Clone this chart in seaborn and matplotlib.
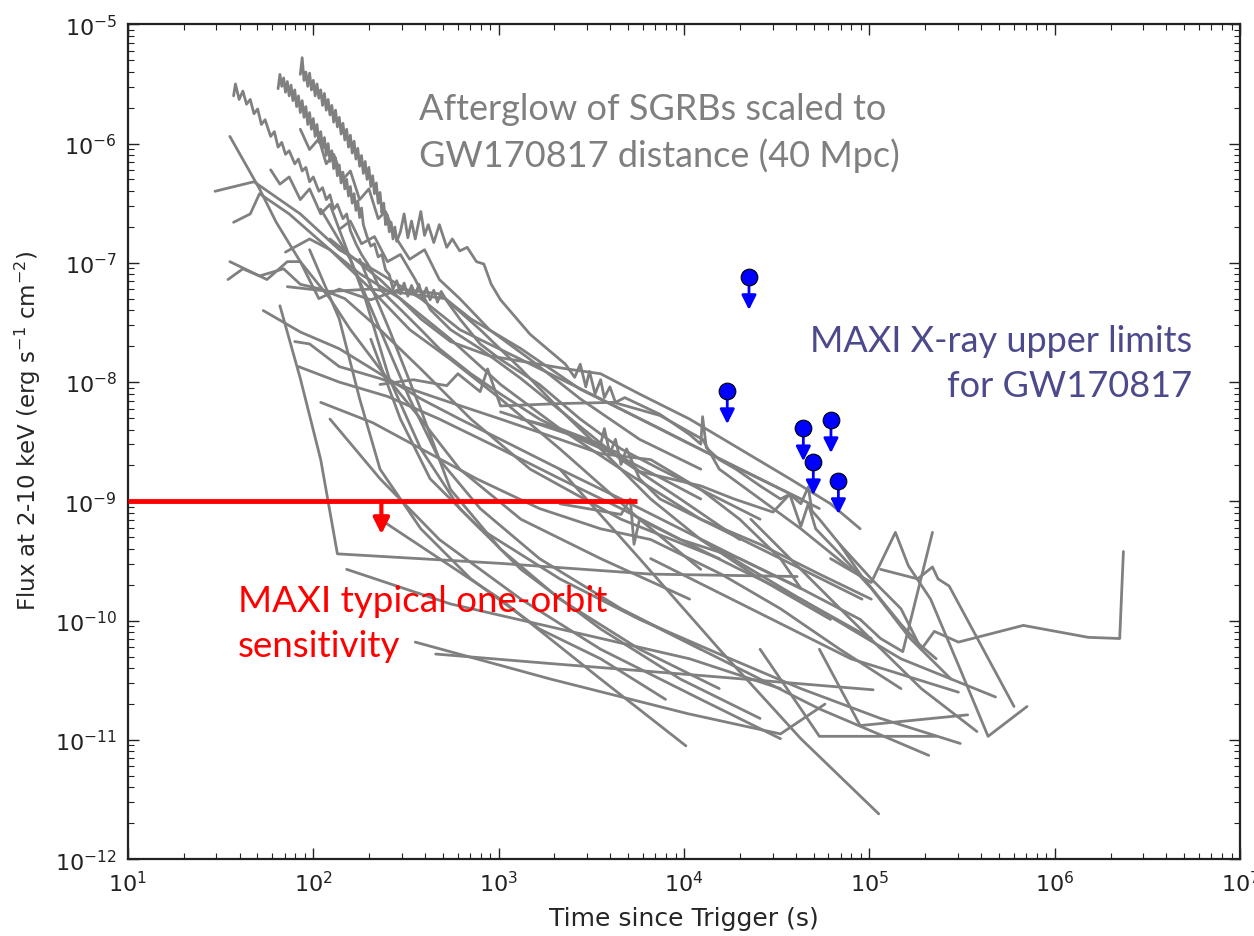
import matplotlib
matplotlib.use("Agg")
import matplotlib.pyplot as plt
import numpy as np
import pandas as pd
import seaborn as sns

# SGRB afterglow light curves,
# each point is (log10 time [s], log10 flux [erg s^-1 cm^-2])
lc_a = [(1.93, -5.42), (1.94, -5.28), (1.95, -5.47), (1.96, -5.40), (1.97, -5.52),
        (1.98, -5.41), (1.99, -5.55), (2.00, -5.47), (2.01, -5.60), (2.02, -5.50),
        (2.03, -5.62), (2.04, -5.55), (2.05, -5.68), (2.06, -5.58), (2.07, -5.72),
        (2.08, -5.63), (2.09, -5.76), (2.10, -5.68), (2.11, -5.82), (2.12, -5.72),
        (2.13, -5.86), (2.14, -5.78), (2.15, -5.92), (2.16, -5.83), (2.17, -5.97),
        (2.18, -5.88), (2.19, -6.03), (2.20, -5.93), (2.21, -6.08), (2.22, -5.98),
        (2.23, -6.13), (2.24, -6.04), (2.25, -6.19), (2.26, -6.10), (2.27, -6.25),
        (2.28, -6.15), (2.29, -6.30), (2.30, -6.20), (2.31, -6.36), (2.32, -6.27),
        (2.33, -6.42), (2.34, -6.33), (2.35, -6.50), (2.36, -6.41), (2.37, -6.58),
        (2.38, -6.50), (2.39, -6.68), (2.40, -6.60), (2.41, -6.74), (2.42, -6.66),
        (2.43, -6.80), (2.44, -6.70), (2.45, -6.82),
        (2.47, -6.74), (2.49, -6.59), (2.51, -6.79), (2.53, -6.65), (2.55, -6.80),
        (2.58, -6.57), (2.60, -6.77), (2.62, -6.68), (2.65, -6.83), (2.68, -6.68),
        (2.72, -6.87), (2.75, -6.80), (2.79, -6.90), (2.83, -6.87), (2.88, -6.99),
        (2.92, -7.01), (2.96, -7.18), (3.01, -7.31), (3.17, -7.60), (3.36, -7.85),
        (3.41, -7.96), (3.44, -7.85), (3.47, -8.04), (3.49, -7.91), (3.52, -8.10),
        (3.55, -7.98), (3.57, -8.13), (3.60, -8.04), (3.63, -8.17), (3.68, -8.13),
        (3.87, -8.27), (4.03, -8.44), (4.09, -8.52), (4.10, -8.29), (4.12, -8.55),
        (4.19, -8.65), (4.28, -8.73), (4.41, -8.87), (4.52, -8.98), (4.57, -8.94),
        (4.63, -9.02), (4.67, -8.88), (4.69, -9.08), (4.73, -9.15), (4.84, -9.36),
        (4.95, -9.61), (5.06, -9.82), (5.17, -10.03), (5.27, -10.20), (5.36, -10.32)]
lc_b = [(1.81, -5.54), (1.82, -5.42), (1.83, -5.52), (1.84, -5.45), (1.85, -5.57),
        (1.86, -5.48), (1.87, -5.60), (1.88, -5.51), (1.89, -5.64), (1.90, -5.55),
        (1.91, -5.69), (1.92, -5.60), (1.93, -5.74), (1.94, -5.64), (1.95, -5.78),
        (1.96, -5.69), (1.97, -5.84), (1.98, -5.74), (1.99, -5.88), (2.00, -5.79),
        (2.01, -5.94), (2.02, -5.84), (2.03, -5.99), (2.04, -5.90), (2.05, -6.04),
        (2.06, -5.95), (2.07, -6.10), (2.08, -6.00), (2.09, -6.15), (2.10, -6.06),
        (2.11, -6.21), (2.12, -6.12), (2.13, -6.27), (2.14, -6.18), (2.15, -6.33),
        (2.16, -6.24), (2.17, -6.38), (2.18, -6.30), (2.19, -6.44), (2.20, -6.36),
        (2.21, -6.50), (2.22, -6.42), (2.23, -6.56), (2.24, -6.48), (2.25, -6.62),
        (2.26, -6.54), (2.27, -6.68), (2.29, -6.78), (2.31, -6.86), (2.33, -6.84),
        (2.35, -6.95), (2.37, -6.93), (2.39, -7.06), (2.41, -7.10), (2.43, -7.22),
        (2.45, -7.15), (2.47, -7.26), (2.49, -7.17), (2.51, -7.28), (2.53, -7.19),
        (2.55, -7.27), (2.57, -7.18), (2.59, -7.30), (2.61, -7.21), (2.63, -7.31),
        (2.65, -7.23), (2.67, -7.33), (2.69, -7.24), (2.72, -7.32), (2.79, -7.47),
        (2.90, -7.68), (3.01, -7.81), (3.22, -8.02), (3.44, -8.31), (3.66, -8.56),
        (3.87, -8.73), (4.09, -8.90), (4.30, -9.15), (4.52, -9.48), (4.63, -9.73)]
lc_c = [(1.57, -5.60), (1.58, -5.50), (1.60, -5.63), (1.62, -5.56), (1.64, -5.67),
        (1.66, -5.63), (1.68, -5.75), (1.70, -5.71), (1.72, -5.84), (1.74, -5.80),
        (1.77, -5.94), (1.79, -5.90), (1.81, -6.03), (1.83, -5.99), (1.85, -6.09),
        (1.87, -6.06), (1.90, -6.17), (1.92, -6.13), (1.94, -6.23), (1.96, -6.20),
        (1.98, -6.32), (2.00, -6.28), (2.03, -6.40), (2.05, -6.37), (2.07, -6.47),
        (2.09, -6.43), (2.11, -6.55), (2.13, -6.51), (2.16, -6.63), (2.18, -6.59),
        (2.20, -6.73), (2.23, -6.84), (2.26, -6.93), (2.31, -7.05), (2.36, -7.22),
        (2.41, -7.30), (2.47, -7.39), (2.58, -7.56), (2.68, -7.72), (2.85, -7.93),
        (3.01, -8.10), (3.22, -8.31), (3.44, -8.48), (3.66, -8.63), (3.87, -8.80),
        (4.09, -8.98)]
lc_d = [(1.47, -6.40), (1.68, -6.32), (1.93, -6.59), (2.14, -6.89), (2.36, -7.09),
        (2.58, -7.30), (2.79, -7.56), (3.12, -7.81), (3.55, -8.14), (3.98, -8.48),
        (4.41, -8.81), (4.73, -9.06)]
lc_e = [(1.55, -5.94), (1.71, -6.38), (1.80, -6.66), (1.93, -6.99), (2.09, -7.30),
        (2.20, -7.56), (2.36, -7.89), (2.58, -8.31), (2.79, -8.73), (3.12, -9.15),
        (3.55, -9.48), (4.03, -9.82)]
lc_f = [(1.57, -6.66), (1.66, -6.59), (1.71, -6.42), (1.87, -6.59), (2.09, -6.89),
        (2.31, -7.22), (2.52, -7.56), (2.74, -7.81), (3.01, -8.14), (3.33, -8.56),
        (3.76, -9.15), (4.09, -9.57)]
lc_g = [(1.54, -7.14), (1.62, -7.05), (1.71, -7.11), (1.84, -7.05), (1.93, -7.18),
        (2.04, -7.22), (2.17, -7.30), (2.36, -7.56), (2.58, -7.89), (2.85, -8.31),
        (3.17, -8.73), (3.66, -9.15), (4.19, -9.48)]
lc_h = [(1.55, -6.99), (1.75, -7.14), (1.86, -6.99), (1.93, -6.99), (2.03, -7.30),
        (2.14, -7.22), (2.31, -7.31), (2.47, -7.22), (2.68, -7.26), (2.85, -7.47),
        (3.12, -7.72), (3.44, -8.06), (3.87, -8.39), (4.30, -8.73), (4.63, -8.98)]
lc_i = [(1.85, -6.91), (1.98, -6.80), (2.09, -6.89), (2.25, -7.09), (2.47, -7.30),
        (2.74, -7.64), (3.01, -8.02), (3.33, -8.39), (3.66, -8.73), (4.09, -9.15),
        (4.52, -9.48), (4.96, -9.82)]
lc_j = [(1.73, -7.40), (1.93, -7.58), (2.14, -7.72), (2.36, -7.93), (2.58, -8.14),
        (2.79, -8.31), (3.01, -8.48), (3.33, -8.73), (3.66, -8.98), (3.98, -9.23),
        (4.30, -9.48), (4.63, -9.73), (4.95, -9.99)]
lc_k = [(1.82, -7.36), (1.93, -7.97), (2.04, -8.65), (2.13, -9.44), (3.01, -9.52),
        (3.82, -9.61), (4.61, -9.63)]
lc_l = [(1.86, -7.20), (2.09, -7.24), (2.31, -7.22), (2.52, -7.26), (2.71, -7.30),
        (2.90, -7.56), (3.12, -7.89), (3.33, -8.23), (3.55, -8.56), (3.82, -8.98),
        (4.09, -9.32), (4.41, -9.65), (4.79, -9.99)]
lc_m = [(1.90, -7.66), (1.98, -7.68), (2.14, -7.87), (2.36, -7.97), (2.68, -8.14),
        (3.01, -8.31), (3.33, -8.48), (3.55, -8.60), (3.82, -8.65), (4.09, -8.90),
        (4.41, -9.15)]
lc_n = [(1.92, -7.87), (2.14, -8.00), (2.40, -8.12), (2.68, -8.31), (3.01, -8.56),
        (3.33, -8.81), (3.66, -9.06), (3.98, -9.32), (4.30, -9.57), (4.63, -9.82),
        (5.01, -10.15)]
lc_o = [(2.04, -8.17), (2.32, -8.34), (2.63, -8.60), (2.88, -8.81), (3.22, -9.06),
        (3.55, -9.23), (3.82, -9.32), (4.20, -9.61), (4.52, -9.90), (4.84, -10.24),
        (5.17, -10.57)]
lc_p = [(2.55, -10.18), (3.28, -10.49), (4.02, -10.78), (4.52, -10.95), (4.76, -10.70)]
lc_q = [(2.66, -10.28), (3.28, -10.36), (4.09, -10.46), (5.02, -10.58)]
lc_r = [(3.33, -8.73), (3.76, -9.48), (4.19, -10.24), (4.63, -10.99), (5.05, -11.62)]
lc_s = [(2.36, -9.15), (3.01, -9.82), (3.55, -10.49), (4.01, -11.05)]
lc_t = [(3.55, -9.82), (4.09, -10.24), (4.73, -10.74), (5.32, -11.13)]
lc_u = [(4.41, -10.24), (4.63, -10.74), (4.73, -10.97), (5.36, -10.97)]
lc_v = [(4.73, -10.24), (4.95, -10.88), (5.53, -10.79)]
lc_w = [(4.09, -9.32), (4.63, -9.82), (5.17, -10.32), (5.68, -10.64)]
lc_x = [(3.82, -9.48), (4.36, -9.90), (4.90, -10.32), (5.48, -10.60)]
lc_y = [(4.79, -9.48), (5.01, -9.68), (5.14, -9.26), (5.21, -9.54), (5.33, -9.82),
        (5.49, -10.41), (5.64, -10.97), (5.85, -10.72)]
lc_z = [(4.95, -9.99), (5.06, -10.15), (5.18, -10.26), (5.34, -9.26)]
lc_aa = [(5.06, -9.57), (5.26, -9.65), (5.34, -9.55), (5.37, -9.65), (5.43, -9.71),
         (5.78, -10.72)]
lc_bb = [(4.84, -9.36), (5.01, -9.65), (5.17, -9.90), (5.28, -10.24), (5.35, -10.09),
         (5.48, -10.18), (5.83, -10.04), (6.18, -10.14), (6.35, -10.15), (6.37, -9.42)]
lc_cc = [(4.36, -9.15), (4.90, -9.99), (5.28, -10.57), (5.58, -10.93)]
lc_ee = [(3.01, -8.25), (3.19, -8.34), (3.46, -8.48), (3.64, -8.59), (3.76, -8.75),
         (4.09, -8.87), (4.27, -8.98), (4.48, -9.09), (4.57, -8.94), (4.63, -9.21),
         (4.67, -9.02), (4.71, -9.23), (4.84, -9.44), (5.01, -9.73), (5.22, -10.15),
         (5.44, -10.49)]
lc_ff = [(2.36, -8.02), (2.54, -7.98), (2.72, -8.03), (2.78, -7.93), (2.90, -8.08),
         (2.94, -7.89), (3.01, -8.20), (3.33, -8.18), (3.62, -8.17), (3.87, -8.28),
         (4.10, -8.48), (4.19, -8.73), (4.41, -8.98), (4.63, -9.23), (4.90, -9.57)]
lc_gg = [(2.09, -6.80), (2.36, -7.14), (2.58, -7.47), (2.74, -7.66), (2.95, -7.78),
         (3.37, -7.89), (3.55, -7.93), (3.76, -8.10), (4.03, -8.31), (4.30, -8.56),
         (4.57, -8.81), (4.79, -9.02), (4.95, -9.23)]
lc_hh = [(2.04, -6.55), (2.20, -6.97), (2.36, -7.56), (2.52, -8.14), (2.68, -8.65),
         (2.90, -9.06), (3.22, -9.48), (3.66, -9.90), (4.09, -10.24)]
lc_ii = [(2.14, -6.72), (2.28, -7.30), (2.41, -7.97), (2.58, -8.56), (2.79, -9.06),
         (3.12, -9.57), (3.55, -10.07), (3.98, -10.49), (4.41, -10.82)]
lc_jj = [(2.25, -6.97), (2.41, -7.56), (2.58, -8.23), (2.74, -8.90), (3.01, -9.40),
         (3.33, -9.82), (3.76, -10.24), (4.19, -10.57)]
lc_kk = [(1.98, -6.89), (2.14, -7.47), (2.25, -8.14), (2.36, -8.73), (2.58, -9.23),
         (2.85, -9.65), (3.22, -10.07), (3.55, -10.32), (3.90, -10.66)]
lc_ll = [(2.31, -7.64), (2.47, -8.31), (2.63, -8.81), (2.90, -9.23), (3.33, -9.65),
         (3.76, -9.99), (4.19, -10.28), (4.63, -10.57), (5.06, -10.82), (5.49, -11.03)]
lc_mm = [(2.09, -8.31), (2.36, -8.81), (2.68, -9.32), (3.12, -9.82), (3.55, -10.24),
         (4.09, -10.66), (4.52, -10.99)]
lc_qq = [(1.93, -5.88), (1.98, -6.05), (2.03, -5.96), (2.07, -6.17), (2.11, -6.09),
         (2.16, -6.30), (2.20, -6.23), (2.25, -6.47), (2.30, -6.38), (2.35, -6.63),
         (2.39, -6.57), (2.45, -6.80), (2.52, -6.97), (2.60, -6.89), (2.68, -7.14),
         (2.79, -7.30), (2.95, -7.56), (3.17, -7.81), (3.44, -8.14), (3.76, -8.48),
         (4.09, -8.73)]
lc_rr = [(1.77, -6.22), (1.82, -6.34), (1.87, -6.28), (1.93, -6.47), (1.98, -6.38),
         (2.04, -6.59), (2.09, -6.51), (2.14, -6.72), (2.20, -6.65), (2.26, -6.84),
         (2.33, -6.78), (2.40, -6.99), (2.47, -6.93), (2.55, -7.14), (2.63, -7.39),
         (2.74, -7.56), (2.90, -7.72), (3.12, -7.97), (3.39, -8.31), (3.66, -8.65),
         (3.98, -8.98), (4.30, -9.32)]
lc_ss = [(3.12, -8.31), (3.33, -8.39), (3.55, -8.52), (3.57, -8.39), (3.60, -8.60),
         (3.63, -8.48), (3.66, -8.69), (3.69, -8.56), (3.76, -8.81), (3.87, -8.98),
         (4.09, -9.15), (4.41, -9.36), (4.73, -9.61), (5.01, -9.82)]
lc_tt = [(3.33, -9.02), (3.66, -9.11), (3.71, -8.98), (3.73, -9.36), (3.76, -9.15),
         (3.98, -9.32), (4.30, -9.48), (4.63, -9.73)]
lc_vv = [(2.18, -9.57), (2.74, -9.86), (3.33, -10.07), (4.03, -10.32), (4.52, -10.57)]

SGRB_CURVES = [lc_a, lc_b, lc_c, lc_d, lc_e, lc_f, lc_g, lc_h, lc_i, lc_j, lc_k,
               lc_l, lc_m, lc_n, lc_o, lc_p, lc_q, lc_r, lc_s, lc_t, lc_u, lc_v,
               lc_w, lc_x, lc_y, lc_z, lc_aa, lc_bb, lc_cc, lc_ee, lc_ff, lc_gg,
               lc_hh, lc_ii, lc_jj, lc_kk, lc_ll, lc_mm, lc_qq, lc_rr, lc_ss,
               lc_tt, lc_vv]

# MAXI upper limits for GW170817
ul_time = [2.24e4, 1.71e4, 4.4e4, 6.2e4, 4.98e4, 6.8e4]
ul_flux = [7.6e-8, 8.4e-9, 4.1e-9, 4.8e-9, 2.13e-9, 1.48e-9]

# MAXI typical one-orbit sensitivity
sens_flux = 1e-9
sens_time = [10, 5.6e3]
sens_arrow_time = 233

x_ticks = [1e1, 1e2, 1e3, 1e4, 1e5, 1e6, 1e7]
y_ticks = [1e-12, 1e-11, 1e-10, 1e-9, 1e-8, 1e-7, 1e-6, 1e-5]

ARROW_DROP = 0.53  # arrow tip as a fraction of the limit

GRAY = "#808080"
TEXT_FONT = ["Lato", "DejaVu Sans"]

sns.set_style("white")
plt.rcParams.update({
    "font.family": ["DejaVu Sans"],
    "axes.unicode_minus": False,
    "xtick.direction": "in",
    "ytick.direction": "in",
    "xtick.top": True,
    "ytick.right": True,
    "xtick.bottom": True,
    "ytick.left": True,
    "xtick.major.size": 8,
    "ytick.major.size": 8,
    "xtick.minor.size": 4,
    "ytick.minor.size": 4,
    "xtick.major.width": 1.0,
    "ytick.major.width": 1.0,
    "xtick.minor.width": 0.8,
    "ytick.minor.width": 0.8,
    "xtick.color": "#222222",
    "ytick.color": "#222222",
    "axes.edgecolor": "#222222",
    "axes.linewidth": 1.6,
})

rows = []
for i, lc in enumerate(SGRB_CURVES):
    for lt, lf in lc:
        rows.append((i, 10 ** lt, 10 ** lf))
df = pd.DataFrame(rows, columns=["grb", "time", "flux"])

fig = plt.figure(figsize=(12.54, 9.37), dpi=100)
ax = fig.add_axes([0.102, 0.082, 0.887, 0.891])
ax.set_xscale("log")
ax.set_yscale("log")

sns.lineplot(data=df, x="time", y="flux", units="grb", estimator=None, sort=False,
             color=GRAY, lw=2.0, ax=ax, legend=False)

# sensitivity line + arrow
ax.plot(sens_time, [sens_flux, sens_flux], color="red", lw=3.5, solid_capstyle="butt", zorder=4)
ax.annotate("", xy=(sens_arrow_time, sens_flux * ARROW_DROP), xytext=(sens_arrow_time, sens_flux),
            arrowprops=dict(arrowstyle="-|>", color="red", lw=3, mutation_scale=24,
                            shrinkA=0, shrinkB=0), zorder=4)

# upper limits
for t, f in zip(ul_time, ul_flux):
    ax.annotate("", xy=(t, f * ARROW_DROP), xytext=(t, f),
                arrowprops=dict(arrowstyle="-|>", color="blue", lw=2, mutation_scale=22,
                                shrinkA=0, shrinkB=0), zorder=5)
ax.plot(ul_time, ul_flux, "o", color="blue", mec="black", mew=0.8, ms=12, zorder=6)

ax.set_xticks(x_ticks)
ax.set_yticks(y_ticks)
ax.set_xlim(10, 1e7)
ax.set_ylim(1e-12, 1e-5)
ax.tick_params(which="both", labelsize=16)
ax.tick_params(axis="x", pad=8)
ax.tick_params(axis="y", pad=8)

ax.set_xlabel("Time since Trigger (s)", fontsize=18)
ax.set_ylabel(r"Flux at 2-10 keV (erg s$^{-1}$ cm$^{-2}$)", fontsize=16.5)
ax.xaxis.set_label_coords(0.5, -0.056)
ax.yaxis.set_label_coords(-0.076, 0.515)

ax.text(0.262, 0.871, "Afterglow of SGRBs scaled to\nGW170817 distance (40 Mpc)",
        transform=ax.transAxes, ha="left", va="center", fontsize=26,
        color="#7f7f7f", family=TEXT_FONT, linespacing=1.45)
ax.text(0.957, 0.594, "MAXI X-ray upper limits\nfor GW170817",
        transform=ax.transAxes, ha="right", va="center", multialignment="right",
        fontsize=26, color="#4d4a8c", family=TEXT_FONT, linespacing=1.45)
ax.text(0.099, 0.283, "MAXI typical one-orbit\nsensitivity",
        transform=ax.transAxes, ha="left", va="center", fontsize=26.5,
        color="red", family=TEXT_FONT, linespacing=1.45)

fig.savefig("out.png", dpi=100)
